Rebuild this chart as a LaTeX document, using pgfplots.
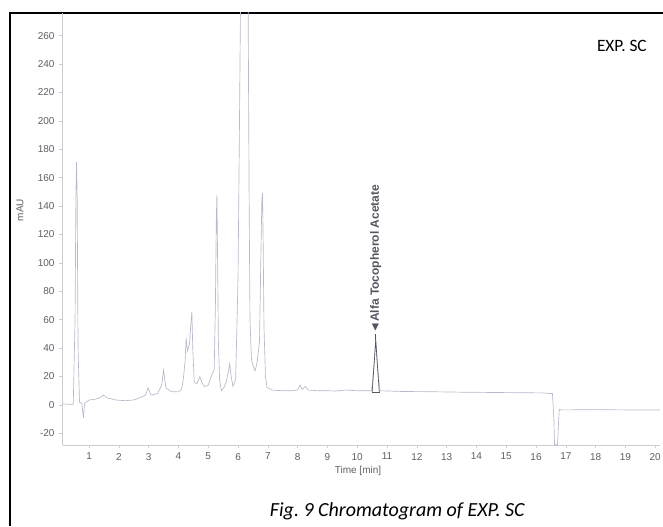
\documentclass[border=0pt]{standalone}
\usepackage{pgfplots}
\pgfplotsset{compat=1.18}
\usepackage{fontspec}
\setmainfont{Liberation Sans}
\newfontfamily\capfont{Carlito}
\definecolor{trace}{RGB}{188,183,204}
\definecolor{axgray}{RGB}{205,203,212}
\definecolor{lblgray}{RGB}{95,95,100}
\definecolor{peakdark}{RGB}{85,85,95}
\frenchspacing

\begin{document}
\begin{tikzpicture}
  \useasboundingbox (0,0) rectangle (497.25pt,394.5pt);
  % frame
  \draw[black, line width=1.5pt] (7.5pt,0pt) -- (7.5pt,384.75pt) -- (497.25pt,384.75pt);

  \begin{axis}[
    at={(46.9pt,60.75pt)}, anchor=south west,
    scale only axis,
    width=448.1pt, height=324pt,
    xmin=0.11, xmax=20.16,
    ymin=-28.2, ymax=276,
    axis x line*=bottom, axis y line*=left,
    axis line style={axgray, line width=0.6pt, -},
    xtick={1,2,...,20},
    ytick={-20,0,20,...,260},
    tick style={axgray, line width=0.5pt},
    tick align=outside,
    major tick length=2.5pt,
    ticklabel style={font=\fontsize{7.5}{8}\selectfont, text=lblgray},
    /pgf/number format/assume math mode=true,
    clip=true,
  ]
  \addplot[trace, line width=0.5pt] coordinates {
    (0.11,0.7) (0.30,0.5) (0.47,0.5) (0.53,60) (0.56,150) (0.58,171) (0.60,150)
    (0.63,40) (0.68,2) (0.76,1) (0.81,-9) (0.85,1) (0.90,2) (1.00,3.5)
    (1.20,4) (1.35,5) (1.49,7) (1.60,5) (1.90,3.5) (2.20,3) (2.50,3.5)
    (2.70,5) (2.90,7) (2.98,12) (3.08,7) (3.30,8) (3.44,14) (3.50,24.6)
    (3.58,12) (3.75,9.4) (4.00,9.2) (4.10,11) (4.16,17.5) (4.22,30)
    (4.26,47) (4.30,38) (4.37,43) (4.42,58) (4.45,65.7) (4.48,40) (4.53,16)
    (4.62,15) (4.72,20) (4.80,15) (4.88,13) (5.00,14) (5.10,20) (5.20,25)
    (5.24,70) (5.27,130) (5.29,148) (5.31,110) (5.34,45) (5.38,18) (5.44,10)
    (5.52,12) (5.60,16) (5.68,24) (5.72,29) (5.77,20) (5.83,13) (5.92,18)
    (6.00,90) (6.04,180) (6.08,276) (6.20,420) (6.34,276) (6.37,150)
    (6.40,60) (6.45,32) (6.50,28) (6.57,24) (6.64,30) (6.72,45) (6.77,110)
    (6.80,145) (6.82,149) (6.84,120) (6.87,55) (6.92,20) (6.97,12.4) (7.14,10.5) (7.50,10)
    (7.80,10) (8.00,10.5) (8.08,14) (8.15,11) (8.26,13) (8.35,10.5)
    (8.70,10) (9.00,10) (9.30,9.8) (9.60,10.5) (10.00,10) (10.48,10)
    (10.57,30) (10.62,46) (10.67,30) (10.76,10) (11.50,9.5) (12.50,9.3)
    (13.50,9) (14.50,8.8) (15.50,8.6) (16.20,8.5) (16.55,8) (16.60,-10)
    (16.62,-28) (16.72,-28) (16.76,-10) (16.78,-3) (16.85,-3.5)
    (18.00,-3.3) (19.00,-3.5) (20.16,-3.5)
  };
  % integrated peak, drawn darker
  \addplot[peakdark, line width=0.5pt] coordinates {
    (10.50,9) (10.57,30) (10.62,46) (10.67,30) (10.74,9)
  };
  \addplot[peakdark, line width=0.5pt] coordinates {(10.48,9) (10.76,9)};
  \addplot[peakdark, line width=0.5pt] coordinates {(10.62,46) (10.62,50)};
  \node[rotate=90, anchor=west, inner sep=0pt, text=peakdark,
        font=\fontsize{9}{10}\selectfont\bfseries]
        at (axis cs:10.62,50) {◄Alfa Tocopherol Acetate};
  \end{axis}

  \node[rotate=90, font=\fontsize{7.5}{8}\selectfont, text=lblgray] at (15pt,237pt) {mAU};
  \node[font=\fontsize{7.5}{8}\selectfont, text=lblgray] at (268.5pt,41.5pt) {Time [min]};
  \node[anchor=base east, inner sep=0pt, font=\capfont\fontsize{13}{14}\selectfont] at (485.25pt,355.5pt) {EXP. SC};
  \node[anchor=base, inner sep=0pt, font=\capfont\itshape\fontsize{15}{16}\selectfont] at (298pt,7.5pt) {Fig. 9 Chromatogram of EXP. SC};
\end{tikzpicture}
\end{document}
